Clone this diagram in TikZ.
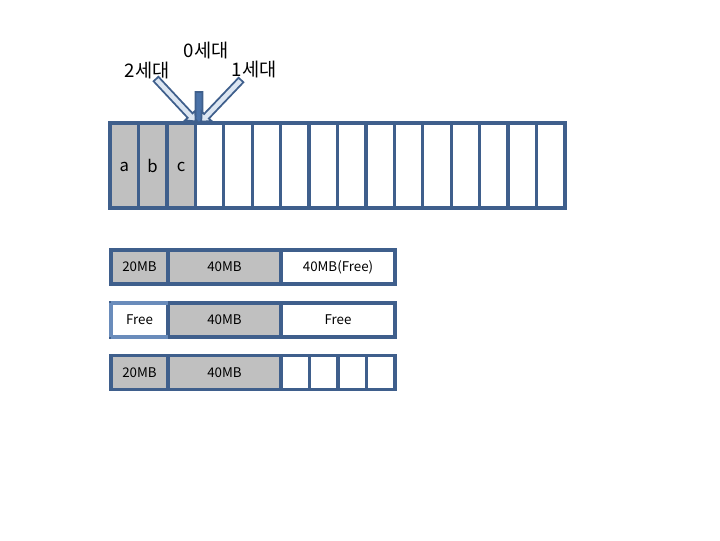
\documentclass[tikz,border=0pt]{standalone}
\usepackage{fontspec}
\setmainfont{Noto Sans CJK KR}
\begin{document}
\begin{tikzpicture}[x=0.75pt,y=-0.75pt]
\definecolor{edge}{HTML}{3F5F8C}
\definecolor{edgelight}{HTML}{6A8CBB}
\definecolor{cellgray}{HTML}{C0C0C0}
\definecolor{arrowfill}{HTML}{DCE6F2}
\definecolor{arrowdark}{HTML}{4A72A8}
\tikzset{
  cell/.style={draw=edge, line width=2.5pt, inner sep=0pt, outer sep=0pt, minimum height=#1*0.75pt, font=\fontsize{11}{12}\selectfont},
  mem/.style={draw=edge, line width=2.5pt, inner sep=0pt, outer sep=0pt, minimum height=34*0.75pt, font=\fontsize{10}{11}\selectfont},
  used/.style={fill=cellgray},
  blockarrow/.style={draw=edge, line width=1.3pt, line join=miter},
  lbl/.style={font=\fontsize{14}{16}\selectfont, inner sep=0pt},
  letter/.style={font=\fontsize{12.5}{14}\selectfont, inner sep=0pt}
}
\useasboundingbox (0,0) rectangle (720,540);
% big strip of 16 cells
\foreach \i in {1,...,16}{
  \pgfmathsetmacro{\cx}{110+(\i-0.5)*28.4375}
  \ifnum\i<4
    \node[cell=85, used, minimum width=28.4375*0.75pt] (c\i) at (\cx,165.5) {};
  \else
    \node[cell=85, fill=white, minimum width=28.4375*0.75pt] (c\i) at (\cx,165.5) {};
  \fi
}
\node[letter] (ta) at (124.2,167) {a};
\node[letter] (tb) at (152.6,166) {b};
\node[letter] (tc) at (181.1,167) {c};
% arrows
\draw[blockarrow, fill=arrowdark, shift={(199,92)}, rotate=-90]
  (0,-3.5) -- (24,-3.5) -- (24,-7) -- (31,0) -- (24,7) -- (24,3.5) -- (0,3.5) -- cycle;
\draw[blockarrow, fill=arrowfill, shift={(156,79)}, rotate=-47]
  (0,-3.3) -- (50,-3.3) -- (50,-7) -- (58,0) -- (50,7) -- (50,3.3) -- (0,3.3) -- cycle;
\draw[blockarrow, fill=arrowfill, shift={(241,80)}, rotate=-133.6]
  (0,-3.3) -- (50,-3.3) -- (50,-7) -- (57.5,0) -- (50,7) -- (50,3.3) -- (0,3.3) -- cycle;
\node[lbl] (g2) at (147,71) {2세대};
\node[lbl] (g0) at (206,51) {0세대};
\node[lbl] (g1) at (254,70) {1세대};
% row 1
\node[mem, used, minimum width=57*0.75pt] (r1a) at (139.5,267) {20MB};
\node[mem, used, minimum width=113*0.75pt] (r1b) at (224.5,267) {40MB};
\node[mem, fill=white, minimum width=114*0.75pt] (r1c) at (338,267) {40MB(Free)};
% row 2
\node[mem, fill=white, minimum width=57*0.75pt] (r2a) at (139.5,320) {Free};
\node[mem, used, minimum width=113*0.75pt] (r2b) at (224.5,320) {40MB};
\node[mem, fill=white, minimum width=114*0.75pt] (r2c) at (338,320) {Free};
\draw[draw=edgelight, line width=2.5pt] (r2a.south west) -- (r2a.north west);
\draw[draw=edgelight, line width=2.5pt] (r2a.north west) -- (r2a.north east);
\draw[draw=edgelight, line width=2.5pt] (r2a.south west) -- (r2a.south east);
% row 3
\node[mem, used, minimum width=57*0.75pt] (r3a) at (139.5,372.5) {20MB};
\node[mem, used, minimum width=113*0.75pt] (r3b) at (224.5,372.5) {40MB};
\foreach \j in {1,...,4}{
  \pgfmathsetmacro{\cx}{281+(\j-0.5)*28.5}
  \node[mem, fill=white, minimum width=28.5*0.75pt] (r3c\j) at (\cx,372.5) {};
}
\end{tikzpicture}
\end{document}
